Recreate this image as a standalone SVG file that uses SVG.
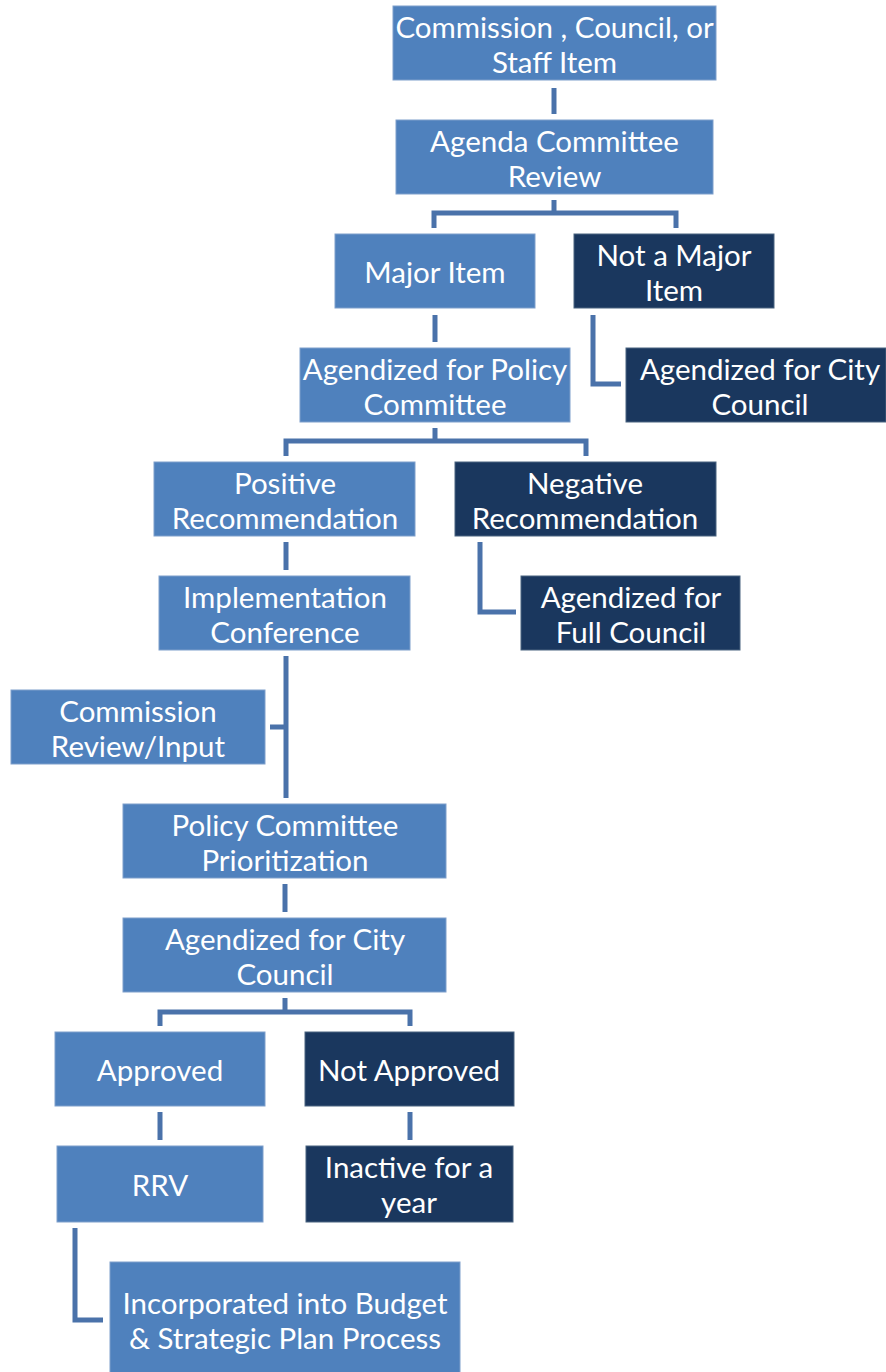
<svg xmlns="http://www.w3.org/2000/svg" width="886" height="1372" viewBox="0 0 886 1372">
<style>
.l{fill:#4F81BD;stroke:#7F9FCB;stroke-width:1}
.d{fill:#1A375E;stroke:#4A6480;stroke-width:1}
text{font-family:Lato,"Open Sans","Liberation Sans",sans-serif;font-size:29.5px;fill:#FFFFFF;text-anchor:middle;dominant-baseline:central}
.c{fill:none;stroke:#4A72AA;stroke-width:5;stroke-linecap:butt;stroke-linejoin:miter}
</style>
<rect width="886" height="1372" fill="#FFFFFF"/>
<g id="connectors">
<path class="c" d="M554,88V114"/>
<path class="c" d="M554,200V213M434,228V213H676V228"/>
<path class="c" d="M435,315V342"/>
<path class="c" d="M593,315V384H621"/>
<path class="c" d="M435,428V441M286,456V441H586V456"/>
<path class="c" d="M286,542V570"/>
<path class="c" d="M480,542V612H516"/>
<path class="c" d="M286,656V798M270,727H286"/>
<path class="c" d="M285,884V912"/>
<path class="c" d="M285,998V1012M160,1026V1012H410V1026"/>
<path class="c" d="M160,1112V1140"/>
<path class="c" d="M410,1112V1140"/>
<path class="c" d="M75,1228V1320H103"/>
</g>
<g id="n1"><rect class="l" x="393" y="6" width="323" height="74"/><text x="554.5" y="26">Commission , Council, or</text><text x="554.5" y="61">Staff Item</text></g>
<g id="n2"><rect class="l" x="396" y="120" width="317" height="74"/><text x="554.5" y="140">Agenda Committee</text><text x="554.5" y="175">Review</text></g>
<g id="n3"><rect class="l" x="335" y="234" width="200" height="74"/><text x="435" y="271">Major Item</text></g>
<g id="n4"><rect class="d" x="574" y="234" width="200" height="74"/><text x="674" y="254">Not a Major</text><text x="674" y="289">Item</text></g>
<g id="n5"><rect class="l" x="300" y="348" width="270" height="74"/><text x="435" y="368">Agendized for Policy</text><text x="435" y="403">Committee</text></g>
<g id="n6"><rect class="d" x="626" y="348" width="260" height="74"/><text x="760" y="368">Agendized for City</text><text x="760" y="403">Council</text></g>
<g id="n7"><rect class="l" x="154" y="462" width="261" height="74"/><text x="285" y="482">Positive</text><text x="285" y="517">Recommendation</text></g>
<g id="n8"><rect class="d" x="455" y="462" width="261" height="74"/><text x="585" y="482">Negative</text><text x="585" y="517">Recommendation</text></g>
<g id="n9"><rect class="l" x="159" y="576" width="251" height="74"/><text x="285" y="596">Implementation</text><text x="285" y="631">Conference</text></g>
<g id="n10"><rect class="d" x="521" y="576" width="219" height="74"/><text x="631" y="596">Agendized for</text><text x="631" y="631">Full Council</text></g>
<g id="n11"><rect class="l" x="11" y="690" width="254" height="74"/><text x="138" y="710">Commission</text><text x="138" y="745">Review/Input</text></g>
<g id="n12"><rect class="l" x="123" y="804" width="323" height="74"/><text x="285" y="824">Policy Committee</text><text x="285" y="859">Prioritization</text></g>
<g id="n13"><rect class="l" x="123" y="918" width="323" height="74"/><text x="285" y="938">Agendized for City</text><text x="285" y="973">Council</text></g>
<g id="n14"><rect class="l" x="55" y="1032" width="210" height="74"/><text x="160" y="1069">Approved</text></g>
<g id="n15"><rect class="d" x="305" y="1032" width="209" height="74"/><text x="409" y="1069">Not Approved</text></g>
<g id="n16"><rect class="l" x="57" y="1146" width="206" height="76"/><text x="160" y="1184">RRV</text></g>
<g id="n17"><rect class="d" x="306" y="1146" width="207" height="76"/><text x="409" y="1166">Inactive for a</text><text x="409" y="1201">year</text></g>
<g id="n18"><rect class="l" x="110" y="1262" width="350" height="112"/><text x="285" y="1302">Incorporated into Budget</text><text x="285" y="1337">&amp; Strategic Plan Process</text></g>
</svg>
